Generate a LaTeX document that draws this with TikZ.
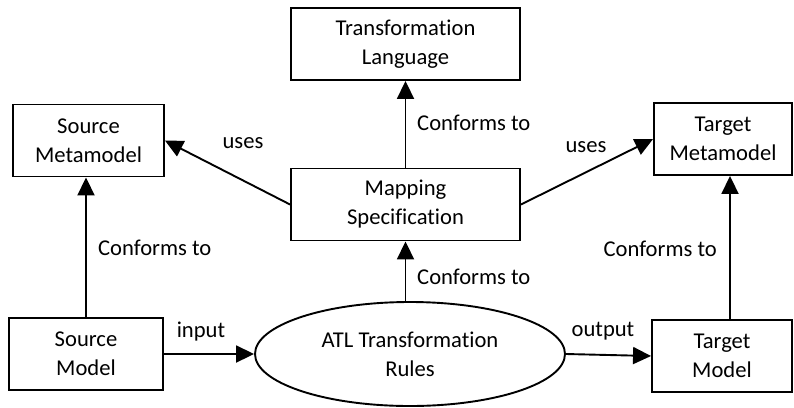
\documentclass[tikz,border=0pt]{standalone}
\usepackage{fontspec}
\setmainfont{Carlito}[Ligatures=NoCommon]
\usetikzlibrary{arrows.meta,shapes.geometric,calc}
\begin{document}
\begin{tikzpicture}[x=1pt,y=-1pt,
  every node/.style={font=\fontsize{22.6}{29}\selectfont, inner sep=0pt},
  box/.style={draw, line width=1.9pt, align=center, minimum height=72pt},
  ell/.style={draw, ellipse, line width=1.9pt, align=center, minimum width=310pt, minimum height=104pt},
  conn/.style={line width=1.9pt, -{Triangle[length=18pt,width=17pt]}},
  lbl/.style={}]
\useasboundingbox (0,0) rectangle (794,407);
\node[box, minimum width=229pt] (tl) at (405.5,44) {Transformation\\Language};
\node[box, minimum width=151pt] (smeta) at (88.5,140.5) {Source\\Metamodel};
\node[box, minimum width=138pt] (tmeta) at (723,139) {Target\\Metamodel};
\node[box, minimum width=229pt] (map) at (405.5,204.5) {Mapping\\Specification};
\node[box, minimum width=154pt] (smodel) at (86,354) {Source\\Model};
\node[box, minimum width=140pt] (tmodel) at (722,356) {Target\\Model};
\node[ell] (atl) at (410,354) {ATL Transformation\\Rules};

\draw[conn] (map.north) -- (tl.south);
\draw[conn] (map.west) -- (smeta.east);
\draw[conn] (map.east) -- (tmeta.west);
\draw[conn] (smodel.north) -- (smodel.north |- smeta.south);
\draw[conn] ([xshift=8pt]tmodel.north) -- ([xshift=8pt]tmodel.north |- tmeta.south);
\draw[conn] (map.south |- atl.north) -- (map.south);
\draw[conn] (smodel.east) -- (atl.west);
\draw[conn] (atl.east) -- (tmodel.west);

\node[lbl, anchor=west] (c1) at (98,248) {Conforms to};
\node[lbl, anchor=east] (c2) at (717,249) {Conforms to};
\node[lbl, anchor=west] (c3) at (417,123) {Conforms to};
\node[lbl, anchor=west] (c4) at (417,277) {Conforms to};
\node[lbl] (u1) at (243,143) {uses};
\node[lbl] (u2) at (586,147) {uses};
\node[lbl] (in) at (201,332) {input};
\node[lbl] (out) at (603,331) {output};
\end{tikzpicture}
\end{document}
